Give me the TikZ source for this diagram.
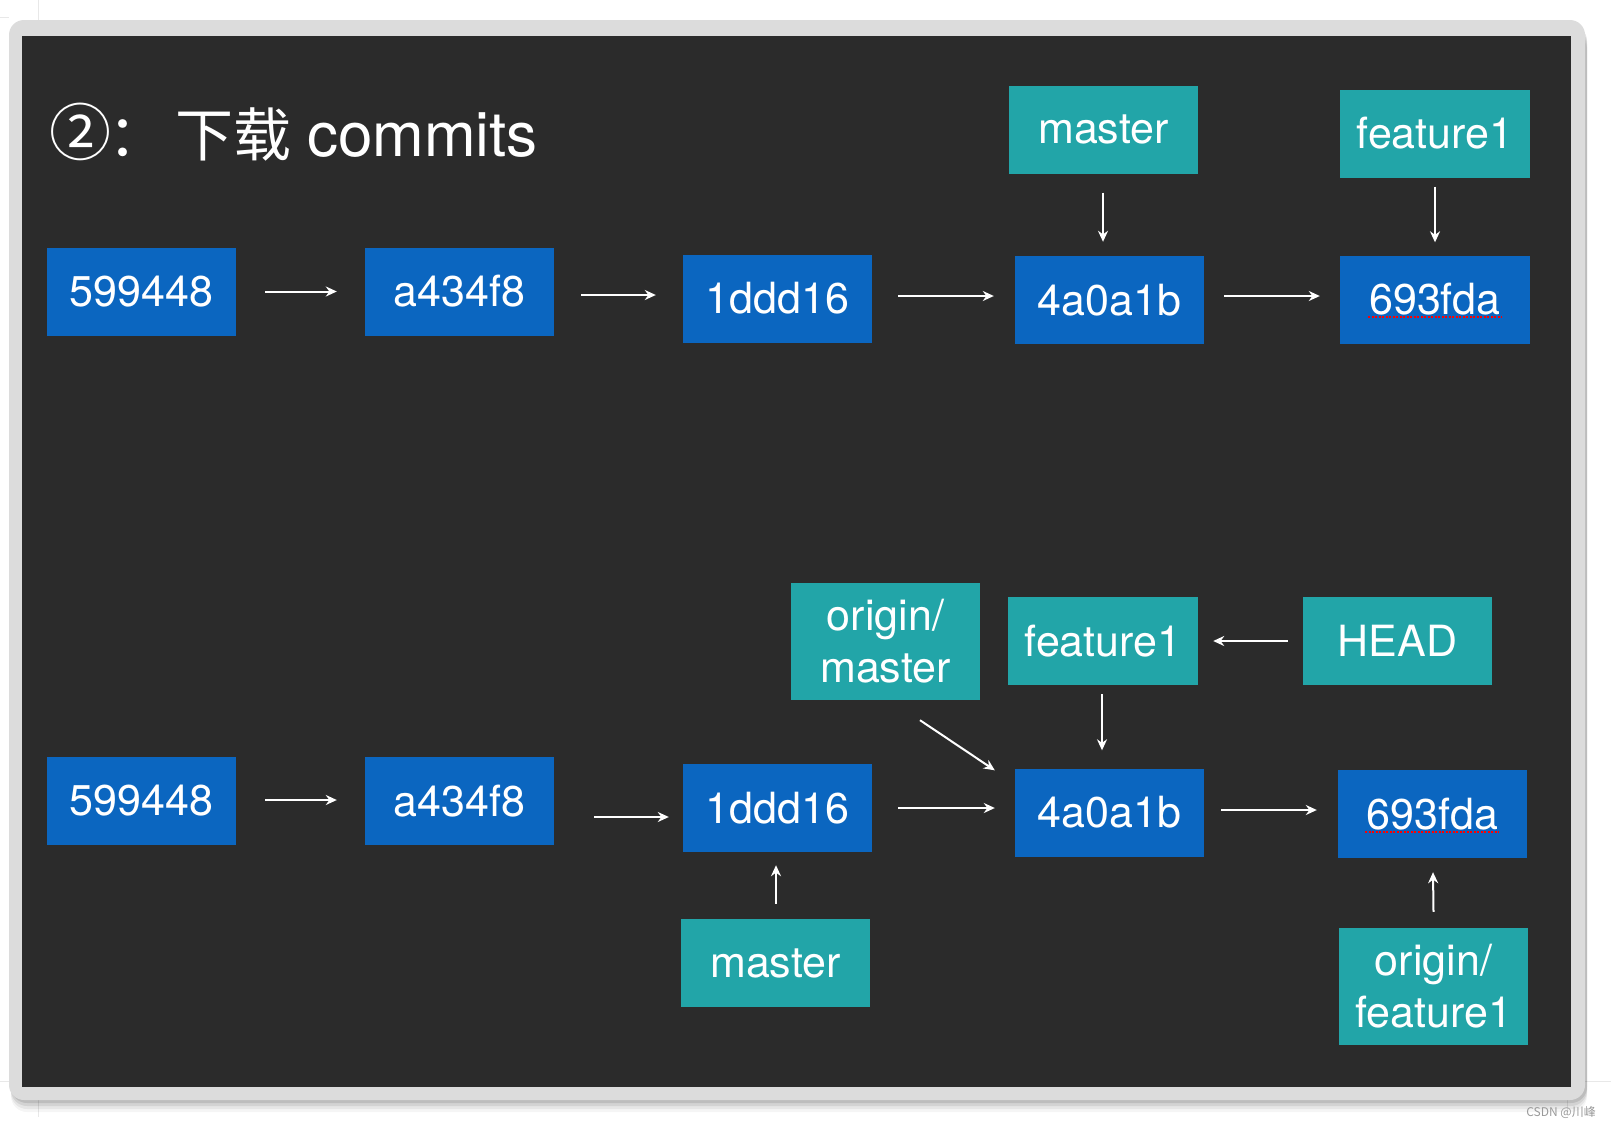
\documentclass[tikz,border=0pt]{standalone}
\usepackage{fontspec}
\setmainfont{TeX Gyre Heros}
\newfontfamily\cjk{Noto Sans CJK SC}
\usetikzlibrary{calc,arrows.meta}
\definecolor{bgdark}{HTML}{2B2B2B}
\definecolor{framegray}{HTML}{DCDCDC}
\definecolor{commitblue}{HTML}{0B66C0}
\definecolor{reftal}{HTML}{22A5A8}
\definecolor{wmgray}{HTML}{9A9A9A}
\tikzset{
  commit/.style={fill=commitblue, text=white, inner sep=0pt, minimum width=189pt, minimum height=88pt, font=\fontsize{43}{52}\selectfont},
  refbox/.style={fill=reftal, text=white, inner sep=0pt, minimum width=189pt, minimum height=88pt, font=\fontsize{43}{52}\selectfont, align=center},
  tallref/.style={refbox, minimum height=117pt},
  arr/.style={draw=white, line width=2pt, -{Stealth[length=11pt,width=10pt]}},
  faint/.style={draw=black!9, line width=0.8pt},
  squiggle/.style={draw=red, line width=1.6pt, dash pattern=on 2pt off 1.5pt}
}
\begin{document}
\begin{tikzpicture}[x=1pt,y=-1pt]
\useasboundingbox (0,0) rectangle (1611,1127);
\fill[white] (0,0) rectangle (1611,1127);
% faint outer lines
\draw[faint] (38,0) -- (38,20);
\draw[faint] (0,17) -- (9,17);
\draw[faint] (38,1100) -- (38,1117);
\draw[faint] (1567,1100) -- (1567,1112);
\draw[faint] (0,1081) -- (9,1081);
\draw[faint] (1585,1081) -- (1611,1081);
% shadow
\foreach \d/\o in {12/0.04,9/0.06,6/0.08,3/0.10} {
  \fill[black, opacity=\o, rounded corners=16pt] (11,{22+\d}) rectangle (1587,{1100+\d});
}
% frame
\fill[framegray, rounded corners=15pt] (9,20) rectangle (1585,1100);
\fill[bgdark] (22,36) rectangle (1571,1087);
% title
\node[text=white, font=\cjk\fontsize{62}{64}\selectfont, anchor=center, inner sep=0pt] (circ) at (80,132) {②};
\node[text=white, font=\cjk\fontsize{58}{60}\selectfont, anchor=base west, inner sep=0pt] (colon) at (108,156) {：};
\node[text=white, font=\cjk\fontsize{58}{60}\selectfont, anchor=base west, inner sep=0pt] (cn) at (175,156) {下载};
\node[text=white, font=\fontsize{62}{64}\selectfont, anchor=base west, inner sep=0pt] (commits) at (307,156) {commits};
% top row
\node[commit] (t1) at (141.5,291.5) {599448};
\node[commit] (t2) at (459.5,291.5) {a434f8};
\node[commit] (t3) at (777.5,298.5) {1ddd16};
\node[commit] (t4) at (1109.5,300) {4a0a1b};
\node[commit, minimum width=190pt] (t5) at (1435,299.5) {693fda};
\node[refbox] (tm) at (1103.5,129.5) {master};
\node[refbox, minimum width=190pt] (tf) at (1435,133.5) {feature1};
\draw[squiggle] (1368,317) -- (1502,317);
\draw[arr] ($(t1.east)+(29,0)$) -- ($(t2.west)+(-28,0)$);
\draw[arr] ($(t2.east)+(27,3.5)$) -- ($(t3.west)+(-27,-3.5)$);
\draw[arr] ($(t3.east)+(26,-2.5)$) -- ($(t4.west)+(-21,-4)$);
\draw[arr] ($(t4.east)+(20,-4)$) -- ($(t5.west)+(-20,-3.5)$);
\draw[arr] ($(tm.south)+(-0.5,19)$) -- ($(t4.north)+(-6.5,-14)$);
\draw[arr] ($(tf.south)+(0,9)$) -- ($(t5.north)+(0,-13)$);
% bottom row
\node[commit] (b1) at (141.5,801) {599448};
\node[commit] (b2) at (459.5,801) {a434f8};
\node[commit] (b3) at (777.5,808) {1ddd16};
\node[commit] (b4) at (1109.5,812.5) {4a0a1b};
\node[commit] (b5) at (1432.5,814) {693fda};
\node[tallref] (bom) at (885.5,641.5) {origin/\\master};
\node[refbox, minimum width=190pt] (bf) at (1103,641) {feature1};
\node[refbox] (bh) at (1397.5,641) {HEAD};
\node[refbox] (bm) at (775.5,963) {master};
\node[tallref] (bof) at (1433.5,986.5) {origin/\\feature1};
\draw[squiggle] (1365,832) -- (1499,832);
\draw[arr] ($(b1.east)+(29,-1)$) -- ($(b2.west)+(-28,-1)$);
\draw[arr] ($(b2.east)+(40,16)$) -- ($(b3.west)+(-14,9)$);
\draw[arr] ($(b3.east)+(26,0)$) -- ($(b4.west)+(-20,-4.5)$);
\draw[arr] ($(b4.east)+(17,-2.5)$) -- ($(b5.west)+(-21,-4)$);
\draw[arr] ($(bom.south)+(34.5,20)$) -- ($(b4.north west)+(-20,2)$);
\draw[arr] ($(bf.south)+(-1,9)$) -- ($(b4.north)+(-7.5,-18)$);
\draw[arr] ($(bh.west)+(-15,0)$) -- ($(bf.east)+(15,0)$);
\draw[arr] ($(bm.north)+(0.5,-15)$) -- ($(b3.south)+(-1.5,13)$);
\draw[arr] ($(bof.north)+(0,-16)$) -- ($(b5.south)+(0.5,14)$);
% watermark
\node[text=wmgray, font=\cjk\fontsize{12}{13}\selectfont, anchor=east, inner sep=0pt] (wm) at (1596,1112) {CSDN @川峰};
\end{tikzpicture}
\end{document}
